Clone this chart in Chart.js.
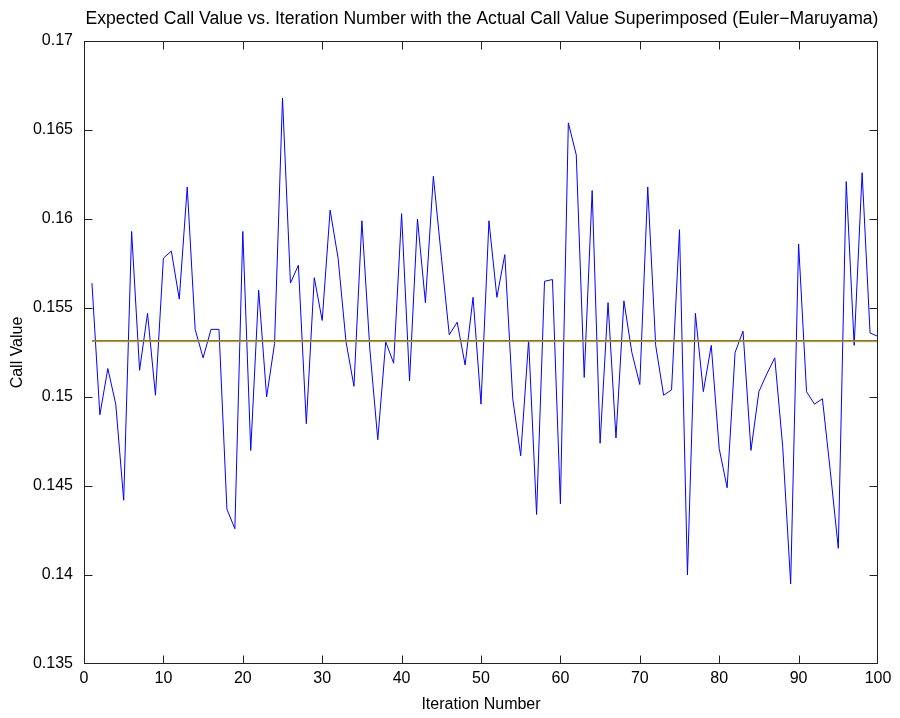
<!DOCTYPE html>
<html>
<head>
<meta charset="utf-8">
<script src="https://cdn.jsdelivr.net/npm/chart.js@4"></script>
<style>
  body { margin: 0; background: #fff; }
  #wrap { width: 900px; height: 718px; }
</style>
</head>
<body>
<div id="wrap"><canvas id="chart" width="900" height="718"></canvas></div>
<script>
const chartTitle = "Expected Call Value vs. Iteration Number with the Actual Call Value Superimposed (Euler\u2212Maruyama)";

const iterations = Array.from({ length: 100 }, (_, i) => i + 1);

// expected call value per iteration
const callValues = [
  0.1564, 0.1490, 0.1516, 0.1496, 0.1442, 0.1593, 0.1515, 0.1547, 0.1501, 0.1578,
  0.1582, 0.1555, 0.1618, 0.1538, 0.1522, 0.1538, 0.1538, 0.1437, 0.1426, 0.1593,
  0.1470, 0.1560, 0.1500, 0.1530, 0.1668, 0.1564, 0.1574, 0.1485, 0.1567, 0.1543,
  0.1605, 0.1578, 0.1531, 0.1506, 0.1599, 0.1527, 0.1476, 0.1531, 0.1519, 0.1603,
  0.1509, 0.1600, 0.1553, 0.1624, 0.1579, 0.1535, 0.1542, 0.1518, 0.1556, 0.1496,
  0.1599, 0.1556, 0.1580, 0.1499, 0.1467, 0.1532, 0.1434, 0.1565, 0.1566, 0.1440,
  0.1654, 0.1636, 0.1511, 0.1616, 0.1474, 0.1553, 0.1477, 0.1554, 0.1525, 0.1507,
  0.1618, 0.1529, 0.1501, 0.1504, 0.1594, 0.1400, 0.1547, 0.1503, 0.1529, 0.1471,
  0.1449, 0.1525, 0.1537, 0.1470, 0.1503, 0.1513, 0.1522, 0.1472, 0.1395, 0.1586,
  0.1503, 0.1496, 0.1499, 0.1458, 0.1415, 0.1621, 0.1529, 0.1626, 0.1536, 0.1534
];

// horizontal reference lines
const refX = [1, 100];
const meanCall = [0.15311, 0.15311];
const actualCall = [0.15317, 0.15317];

const yMin = 0.135, yMax = 0.17, yStep = 0.005;
const xMin = 0, xMax = 100, xStep = 10;

const FONT = "'Liberation Sans', Arial, Helvetica, sans-serif";

function pts(xs, ys) {
  return ys.map((v, i) => ({ x: xs[i], y: v }));
}

// box with inward ticks on all four sides, plus the title
const boxPlugin = {
  id: "box",
  afterDraw(chart) {
    const { ctx, chartArea: a, scales } = chart;
    const L = Math.round(a.left) + 0.5, R = Math.round(a.right) - 0.5;
    const T = Math.round(a.top) + 0.5, B = Math.round(a.bottom) - 0.5;
    const tl = 8;
    ctx.save();
    ctx.strokeStyle = "#222";
    ctx.lineWidth = 1;
    ctx.strokeRect(L, T, R - L, B - T);
    ctx.beginPath();
    scales.x.ticks.forEach((t) => {
      let px = Math.round(scales.x.getPixelForValue(t.value)) + 0.5;
      px = Math.min(Math.max(px, L), R);
      ctx.moveTo(px, B); ctx.lineTo(px, B - tl);
      ctx.moveTo(px, T); ctx.lineTo(px, T + tl);
    });
    scales.y.ticks.forEach((t) => {
      let py = Math.round(scales.y.getPixelForValue(t.value)) + 0.5;
      py = Math.min(Math.max(py, T), B);
      ctx.moveTo(L, py); ctx.lineTo(L + tl, py);
      ctx.moveTo(R, py); ctx.lineTo(R - tl, py);
    });
    ctx.stroke();

    ctx.fillStyle = "#000";
    ctx.font = "17.6px " + FONT;
    ctx.textAlign = "center";
    ctx.textBaseline = "middle";
    ctx.fillText(chartTitle, (a.left + a.right) / 2 + 1, 19);
    ctx.restore();
  }
};

new Chart(document.getElementById("chart").getContext("2d"), {
  type: "line",
  data: {
    datasets: [
      {
        data: pts(refX, meanCall),
        borderColor: "#4fc23a",
        borderWidth: 1,
        pointRadius: 0,
      },
      {
        data: pts(refX, actualCall),
        borderColor: "#d2541c",
        borderWidth: 1.3,
        pointRadius: 0,
      },
      {
        data: pts(iterations, callValues),
        borderColor: "#0000ff",
        borderWidth: 1,
        pointRadius: 0,
        tension: 0,
      },
    ],
  },
  options: {
    responsive: false,
    animation: false,
    layout: { padding: { top: 41, right: 22, left: 0, bottom: 0 } },
    plugins: { legend: { display: false }, tooltip: { enabled: false } },
    scales: {
      x: {
        type: "linear",
        min: xMin,
        max: xMax,
        afterFit: (s) => { s.height = 54; },
        grid: { display: false, drawTicks: false },
        border: { display: false },
        ticks: {
          stepSize: xStep,
          color: "#000",
          padding: 5,
          font: { family: FONT, size: 16 },
          maxRotation: 0,
        },
        title: {
          display: true,
          text: "Iteration Number",
          color: "#000",
          font: { family: FONT, size: 16 },
          padding: { top: 0, bottom: 4 },
        },
      },
      y: {
        min: yMin,
        max: yMax,
        afterFit: (s) => { s.width = 84; },
        grid: { display: false, drawTicks: false },
        border: { display: false },
        ticks: {
          stepSize: yStep,
          color: "#000",
          padding: 11,
          font: { family: FONT, size: 16 },
          callback: (v) => String(Number(v.toFixed(3))),
        },
        title: {
          display: true,
          text: "Call Value",
          color: "#000",
          font: { family: FONT, size: 16 },
          padding: { top: 8, bottom: 0 },
        },
      },
    },
  },
  plugins: [boxPlugin],
});
</script>
</body>
</html>
